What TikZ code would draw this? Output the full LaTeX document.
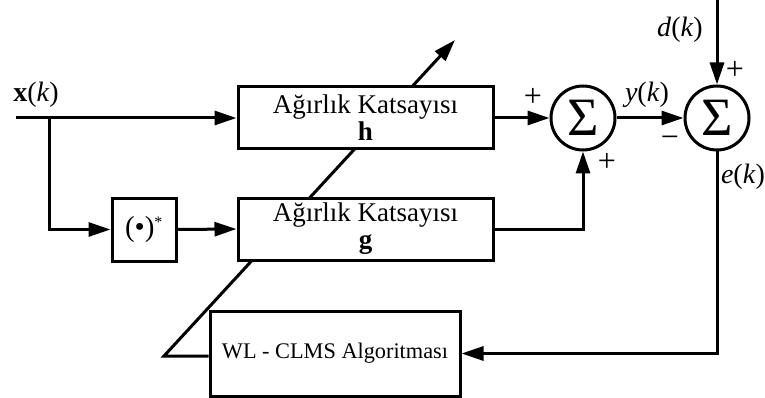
\documentclass[tikz,border=0pt]{standalone}
\usepackage{fontspec}
\setmainfont{Liberation Serif}
\usetikzlibrary{arrows.meta,backgrounds}
\begin{document}
\begin{tikzpicture}[x=1pt,y=-1pt,
  lw/.style={line width=3pt},
  blk/.style={draw,fill=white,lw,inner sep=0pt,align=center,
    font=\fontsize{27}{27}\selectfont},
  sumc/.style={draw,fill=white,circle,lw,minimum size=64pt,inner sep=0pt,
    font=\fontsize{54}{54}\selectfont},
  lbl/.style={font=\fontsize{28}{28}\selectfont,inner sep=0pt},
  sgn/.style={font=\fontsize{32}{32}\selectfont,inner sep=0pt},
  arr/.style={lw,-{Triangle[length=22pt,width=14pt]}},
]
\useasboundingbox (0,0) rectangle (765,398);
\node[blk,minimum width=255pt,minimum height=62pt] (h) at (365.5,118) {Ağırlık Katsayısı\\\textbf{h}};
\node[blk,minimum width=255pt,minimum height=62pt] (g) at (365.5,229) {Ağırlık Katsayısı\\\textbf{g}};
\node[blk,minimum width=64pt,minimum height=63pt,font=\fontsize{29}{29}\selectfont] (c) at (144,229.5) {(•)\textsuperscript{\fontsize{16}{16}\selectfont*}};
\node[sumc] (s1) at (583,118) {\raisebox{-3pt}{Σ}};
\node[sumc] (s2) at (717,118) {\raisebox{-3pt}{Σ}};
\node[blk,minimum width=250pt,minimum height=85pt,font=\fontsize{22.3}{26}\selectfont] (wl) at (335,353.5) {WL - CLMS Algoritması};

\coordinate (in) at (16,118);
\coordinate (br) at (49,118);
\coordinate (dk) at (717,0);
\coordinate (lb) at (164,356);
\coordinate (tip) at (455,40);

\begin{scope}[on background layer]
\draw[arr,line join=miter] (wl.west |- lb) -- (lb) -- (tip);
\end{scope}

\draw[arr] (in) -- (h.west);
\draw[arr] (br) |- (c.west);
\draw[arr] (c.east) -- (g.west);
\draw[arr] (h.east) -- (s1.west);
\draw[arr] (g.east) -| (s1.south);
\draw[arr] (s1.east) -- (s2.west);
\draw[arr] (dk) -- (s2.north);
\draw[arr] (s2.south) |- (wl.east);

\node[lbl] (xk) at (36,95) {\textbf{x}(\textit{k})};
\node[lbl] (dkl) at (680,30) {\textit{d}(\textit{k})};
\node[lbl] (yk) at (647,95) {\textit{y}(\textit{k})};
\node[lbl] (ek) at (743,177) {\textit{e}(\textit{k})};
\node[sgn] (p1) at (533,97) {+};
\node[sgn] (p2) at (607,162) {+};
\node[sgn] (p3) at (735,70) {+};
\node[sgn] (m1) at (670,142) {−};
\end{tikzpicture}
\end{document}
